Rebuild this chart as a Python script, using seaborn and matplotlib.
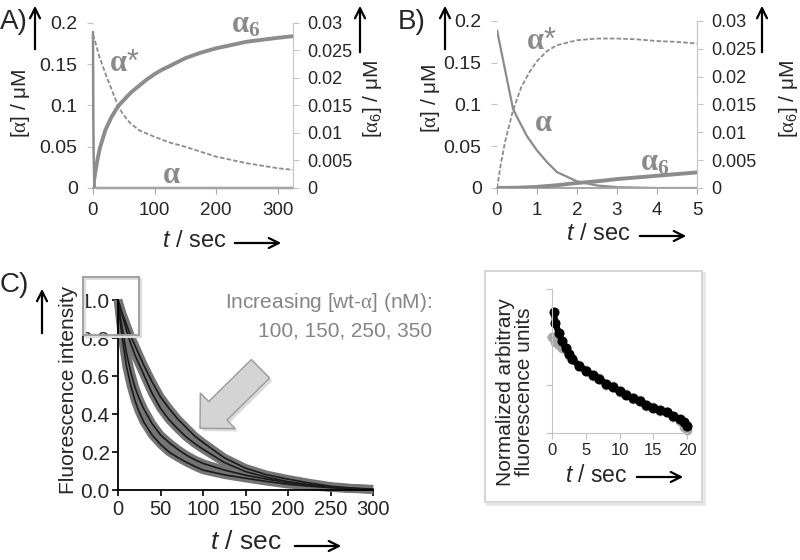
import matplotlib.pyplot as plt
import matplotlib.transforms as mtransforms
import matplotlib.patheffects as pe
from matplotlib.patches import FancyArrowPatch, FancyArrow, Rectangle
import seaborn as sns

sns.set_style("ticks")
plt.rcParams['font.family'] = ['Liberation Sans', 'DejaVu Sans']
plt.rcParams['mathtext.fontset'] = 'custom'
plt.rcParams['mathtext.rm'] = 'Liberation Sans'
plt.rcParams['mathtext.it'] = 'Liberation Serif'
plt.rcParams['mathtext.bf'] = 'Liberation Serif:bold'
plt.rcParams['mathtext.sf'] = 'Liberation Sans:italic'

W, H, DPI = 800, 560, 100

# ---- Panel A: simulation over 320 s (uM); alpha6 on the right axis
a_t_alpha = [0, 0.5, 1, 2, 3, 5, 325]
a_alpha = [0.189, 0.085, 0.045, 0.008, 0.001, 0.0, 0.0]
a_t_star = [0, 3, 10, 22, 30, 41, 50, 60, 75, 100, 125, 150, 200, 250, 300, 325]
a_star = [0.186, 0.179, 0.16, 0.135, 0.12, 0.099, 0.088, 0.079, 0.07, 0.062,
          0.055, 0.05, 0.038, 0.03, 0.024, 0.022]
a_t_a6 = [0, 3, 7, 11, 20, 30, 41, 50, 62, 75, 87, 100, 112, 125, 150, 175, 200,
          250, 300, 325]
a_a6 = [0, 0.0024, 0.005, 0.0072, 0.0105, 0.0129, 0.0149, 0.016, 0.0174, 0.0186,
        0.0197, 0.0207, 0.0215, 0.0222, 0.0236, 0.0246, 0.0254, 0.0266, 0.0273,
        0.0276]

# ---- Panel B: first 5 s
b_t_alpha = [0, 0.25, 0.4, 0.5, 0.75, 1, 1.25, 1.5, 2, 2.5, 3, 4, 5]
b_alpha = [0.189, 0.13, 0.095, 0.085, 0.062, 0.045, 0.031, 0.019, 0.008, 0.003,
           0.001, 0.0, 0.0]
b_t_star = [0, 0.1, 0.2, 0.4, 0.6, 0.8, 1, 1.25, 1.5, 2, 2.5, 3, 3.5, 4, 4.5, 5]
b_star = [0, 0.03, 0.055, 0.093, 0.12, 0.138, 0.152, 0.164, 0.171, 0.177, 0.179,
          0.179, 0.178, 0.176, 0.175, 0.173]
b_t_a6 = [0, 0.5, 1, 1.5, 2, 2.5, 3, 3.5, 4, 4.5, 5]
b_a6 = [0, 0.00005, 0.0002, 0.0005, 0.0009, 0.0012, 0.0016, 0.0019, 0.0022,
        0.0025, 0.0028]

# ---- Panel C: normalized fluorescence, [wt-alpha] = 100, 150, 250, 350 nM
c_t = [0, 2.5, 5, 10, 15, 20, 25, 30, 40, 50, 60, 70, 80, 90, 100, 125, 150, 175,
       200, 225, 250, 275, 300]
c_100 = [1.0, 0.965, 0.93, 0.87, 0.81, 0.76, 0.71, 0.66, 0.57, 0.49, 0.43, 0.375,
         0.33, 0.285, 0.25, 0.17, 0.115, 0.08, 0.057, 0.037, 0.02, 0.01, 0.005]
c_150 = [1.0, 0.96, 0.92, 0.84, 0.77, 0.71, 0.66, 0.61, 0.51, 0.43, 0.37, 0.323,
         0.28, 0.245, 0.215, 0.145, 0.097, 0.067, 0.044, 0.028, 0.016, 0.008, 0.003]
c_250 = [1.0, 0.92, 0.85, 0.72, 0.62, 0.54, 0.48, 0.43, 0.35, 0.29, 0.25, 0.215,
         0.185, 0.16, 0.14, 0.105, 0.078, 0.057, 0.039, 0.026, 0.015, 0.008, 0.003]
c_350 = [1.0, 0.89, 0.80, 0.65, 0.55, 0.47, 0.41, 0.36, 0.29, 0.24, 0.20, 0.172,
         0.147, 0.125, 0.105, 0.08, 0.062, 0.045, 0.030, 0.02, 0.012, 0.006, 0.002]
c_curves = [c_100, c_150, c_250, c_350]

# ---- Inset: first 20 s (arbitrary units)
i_t_fit = [0.25, 0.5, 1, 1.5, 2, 2.5, 3, 4, 5, 6, 7, 8, 9, 10, 11, 12, 13, 14, 15,
           16, 17, 18, 19, 19.5, 20]
i_fit = [2.52, 2.29, 2.08, 1.91, 1.77, 1.65, 1.54, 1.40, 1.30, 1.21, 1.12, 1.03,
         0.95, 0.87, 0.80, 0.72, 0.66, 0.59, 0.53, 0.47, 0.43, 0.35, 0.29, 0.23, 0.14]
i_t_obs = [0, 0.5, 1, 1.5, 2, 2.5, 3, 4, 5, 6, 7, 8, 9, 10, 11, 12, 13, 14, 15,
           16, 17, 18, 19, 19.5, 20]
i_obs = [2.0, 1.9, 1.84, 1.77, 1.72, 1.63, 1.54, 1.42, 1.32, 1.18, 1.15, 1.0, 0.97,
         0.85, 0.82, 0.70, 0.68, 0.57, 0.55, 0.45, 0.44, 0.33, 0.25, 0.12, 0.07]

GRAY = '#8c8c8c'
LABEL_GRAY = '#8a8a8a'
SPINE_GRAY = '#a6a6a6'
LIGHT_GRAY = '#c4c4c4'

fig = plt.figure(figsize=(W / DPI, H / DPI), dpi=DPI)
pxT = mtransforms.Affine2D().scale(1 / DPI) + fig.dpi_scale_trans


def px_axes(x0, y0, x1, y1):
    return fig.add_axes([x0 / W, 1 - y1 / H, (x1 - x0) / W, (y1 - y0) / H])


def ftext(x, y, s, **kw):
    return fig.text(x, H - y, s, transform=pxT, **kw)


def farrow(x0, y0, x1, y1, color='black'):
    fig.add_artist(FancyArrowPatch((x0, H - y0), (x1, H - y1), transform=pxT,
                                   arrowstyle='->', mutation_scale=18, lw=1.6,
                                   color=color))


def conc_axes(box, xlim, xticks):
    ax = px_axes(*box)
    ax2 = ax.twinx()
    ax.set_xlim(*xlim)
    ax.set_ylim(0, 0.2)
    ax2.set_ylim(0, 0.03)
    for s in ['left', 'top', 'right']:
        ax.spines[s].set_visible(False)
    for s in ['left', 'top', 'bottom']:
        ax2.spines[s].set_visible(False)
    ax.spines['bottom'].set_color(SPINE_GRAY)
    ax.spines['bottom'].set_linewidth(1.4)
    ax2.spines['right'].set_color(LIGHT_GRAY)
    ax.set_xticks(xticks)
    ax.set_xticklabels([str(v) for v in xticks])
    ax.set_yticks([0, 0.05, 0.1, 0.15, 0.2])
    ax.set_yticklabels(['0', '0.05', '0.1', '0.15', '0.2'])
    ax2.set_yticks([0, 0.005, 0.01, 0.015, 0.02, 0.025, 0.03])
    ax2.set_yticklabels(['0', '0.005', '0.01', '0.015', '0.02', '0.025', '0.03'])
    ax.tick_params(axis='y', length=4, color=LIGHT_GRAY, labelsize=14, pad=7)
    ax.tick_params(axis='x', length=4, color=SPINE_GRAY, labelsize=13.5, pad=6)
    ax2.tick_params(axis='y', length=4, color=LIGHT_GRAY, labelsize=13, pad=6)
    ax.patch.set_visible(False)
    ax2.patch.set_visible(False)
    ax.set_xlabel('')
    ax.set_ylabel('')
    ax2.set_ylabel('')
    return ax, ax2


def curve_label(ax, x, y, s):
    ax.text(x, y, s, color=LABEL_GRAY, fontsize=22, ha='center', va='center')


# ---------------- Panel A
axA, axA2 = conc_axes((93, 23, 293, 188), (0, 325), [0, 100, 200, 300])
sns.lineplot(x=a_t_alpha, y=a_alpha, ax=axA, color=GRAY, linewidth=1.8, clip_on=False)
sns.lineplot(x=a_t_star, y=a_star, ax=axA, color=GRAY, linewidth=1.3,
             linestyle=(0, (2.5, 1.2)))
sns.lineplot(x=a_t_a6, y=a_a6, ax=axA2, color=GRAY, linewidth=2.8)
curve_label(axA, 248, 0.198, r'$\mathbf{\alpha_6}$')
curve_label(axA, 51, 0.152, r'$\mathbf{\alpha}$*')
curve_label(axA, 128, 0.016, r'$\mathbf{\alpha}$')

# ---------------- Panel B
axB, axB2 = conc_axes((497, 21, 697, 188), (0, 5), [0, 1, 2, 3, 4, 5])
sns.lineplot(x=b_t_alpha, y=b_alpha, ax=axB, color=GRAY, linewidth=1.6)
sns.lineplot(x=b_t_star, y=b_star, ax=axB, color=GRAY, linewidth=1.3,
             linestyle=(0, (2.5, 1.2)))
sns.lineplot(x=b_t_a6, y=b_a6, ax=axB2, color=GRAY, linewidth=2.8)
curve_label(axB, 1.1, 0.176, r'$\mathbf{\alpha}$*')
curve_label(axB, 1.15, 0.078, r'$\mathbf{\alpha}$')
curve_label(axB, 3.95, 0.031, r'$\mathbf{\alpha_6}$')

for (xl, xr, ylab_l, ylab_r, y_up_l, y_up_r) in [
        (20, 373, 103, 99, 35, 360),
        (430, 788, 98, 99, 445, 762)]:
    ftext(xl, ylab_l, r'[$\alpha$] / μM', rotation=90, fontsize=15,
          ha='center', va='center')
    ftext(xr, ylab_r, r'[$\alpha_6$] / μM', rotation=90, fontsize=15,
          ha='center', va='center')
    farrow(y_up_l, 52, y_up_l, 3)
    farrow(y_up_r, 55, y_up_r, 3)
ftext(0, 22, 'A)', fontsize=20, ha='left', va='center')
ftext(398, 22, 'B)', fontsize=20, ha='left', va='center')
ftext(194, 241, r'$\mathsf{t}$ / sec', fontsize=17, ha='center', va='center')
farrow(232, 243, 284, 243)
ftext(598, 234, r'$\mathsf{t}$ / sec', fontsize=17, ha='center', va='center')
farrow(637, 236, 689, 236)

# ---------------- Panel C
axC = px_axes(118, 300, 373, 490)
for c in c_curves:
    sns.lineplot(x=c_t, y=c, ax=axC, color='#747474', linewidth=6,
                 clip_on=False, solid_capstyle='butt', solid_joinstyle='round')
for c in c_curves:
    sns.lineplot(x=c_t, y=c, ax=axC, color='#1a1a1a', linewidth=1.2, clip_on=False)
axC.set_xlim(0, 300)
axC.set_ylim(0, 1.0)
axC.set_xticks([0, 50, 100, 150, 200, 250, 300])
axC.set_yticks([0, 0.2, 0.4, 0.6, 0.8, 1.0])
axC.set_yticklabels(['0.0', '0.2', '0.4', '0.6', '0.8', '1.0'])
for s in ['top', 'right']:
    axC.spines[s].set_visible(False)
for s in ['left', 'bottom']:
    axC.spines[s].set_color('black')
    axC.spines[s].set_linewidth(1.3)
axC.tick_params(axis='both', length=4, color='black', width=1.2)
axC.tick_params(axis='y', labelsize=15, pad=2)
axC.tick_params(axis='x', labelsize=14.5, pad=3)
axC.patch.set_visible(False)
axC.set_xlabel('')
axC.set_ylabel('')

ftext(0, 285, 'C)', fontsize=20, ha='left', va='center')
farrow(42, 336, 42, 286)
ftext(68, 390, 'Fluorescence intensity', rotation=90, fontsize=15,
      ha='center', va='center')
ftext(246, 542, r'$\mathsf{t}$ / sec', fontsize=19, ha='center', va='center')
farrow(292, 546, 344, 546)
ftext(432, 303, r'Increasing [wt-$\alpha$] (nM):', fontsize=15, color='#858585',
      ha='right', va='center')
ftext(432, 331, '100, 150, 250, 350', fontsize=15, color='#858585',
      ha='right', va='center')

shadow = [pe.withSimplePatchShadow(offset=(2, -2), shadow_rgbFace='#9a9a9a', alpha=0.35)]
fig.add_artist(FancyArrow(260.5, H - 368.8, -60.5, -59.5, width=26, head_width=50,
                          head_length=25, length_includes_head=True, transform=pxT,
                          facecolor='#d4d4d4', edgecolor='#9a9a9a', lw=1.0,
                          path_effects=shadow))
fig.add_artist(Rectangle((84.5, H - 336.5), 56, 58, transform=pxT, facecolor='none',
                         edgecolor='#dddddd', lw=1.5, zorder=4))
fig.add_artist(Rectangle((83, H - 335), 56, 58, transform=pxT, facecolor='none',
                         edgecolor='#a0a0a0', lw=1.4, zorder=5))

# ---------------- Inset
fig.add_artist(Rectangle((487, H - 504), 217, 231, transform=pxT, facecolor='none',
                         edgecolor='#e6e6e6', lw=2, zorder=0))
fig.add_artist(Rectangle((485, H - 502), 217, 231, transform=pxT, facecolor='white',
                         edgecolor='#d6d6d6', lw=1.5, zorder=0))
axI = px_axes(552, 289, 687, 433)
sns.scatterplot(x=i_t_obs, y=i_obs, ax=axI, color='#a8a8a8', s=50, linewidth=0,
                clip_on=False)
sns.lineplot(x=i_t_fit, y=i_fit, ax=axI, color='black', linewidth=4.5, marker='o',
             markersize=6.5, markeredgecolor='black', clip_on=False)
axI.set_xlim(0, 20)
axI.set_ylim(0, 3)
axI.set_xticks([0, 5, 10, 15, 20])
axI.set_yticks([0, 1, 2, 3])
axI.set_yticklabels([])
for s in ['top', 'right']:
    axI.spines[s].set_visible(False)
for s in ['left', 'bottom']:
    axI.spines[s].set_color(LIGHT_GRAY)
axI.tick_params(axis='both', length=4, color=LIGHT_GRAY)
axI.tick_params(axis='x', labelsize=12, pad=3)
axI.patch.set_visible(False)
axI.set_xlabel('')
axI.set_ylabel('')
ftext(515, 392, 'Normalized arbitrary\nfluorescence units', rotation=90,
      fontsize=15, ha='center', va='center', linespacing=1.05)
ftext(596, 475, r'$\mathsf{t}$ / sec', fontsize=16.5, ha='center', va='center')
farrow(634, 477, 686, 477)

fig.savefig('out.png', dpi=DPI)
